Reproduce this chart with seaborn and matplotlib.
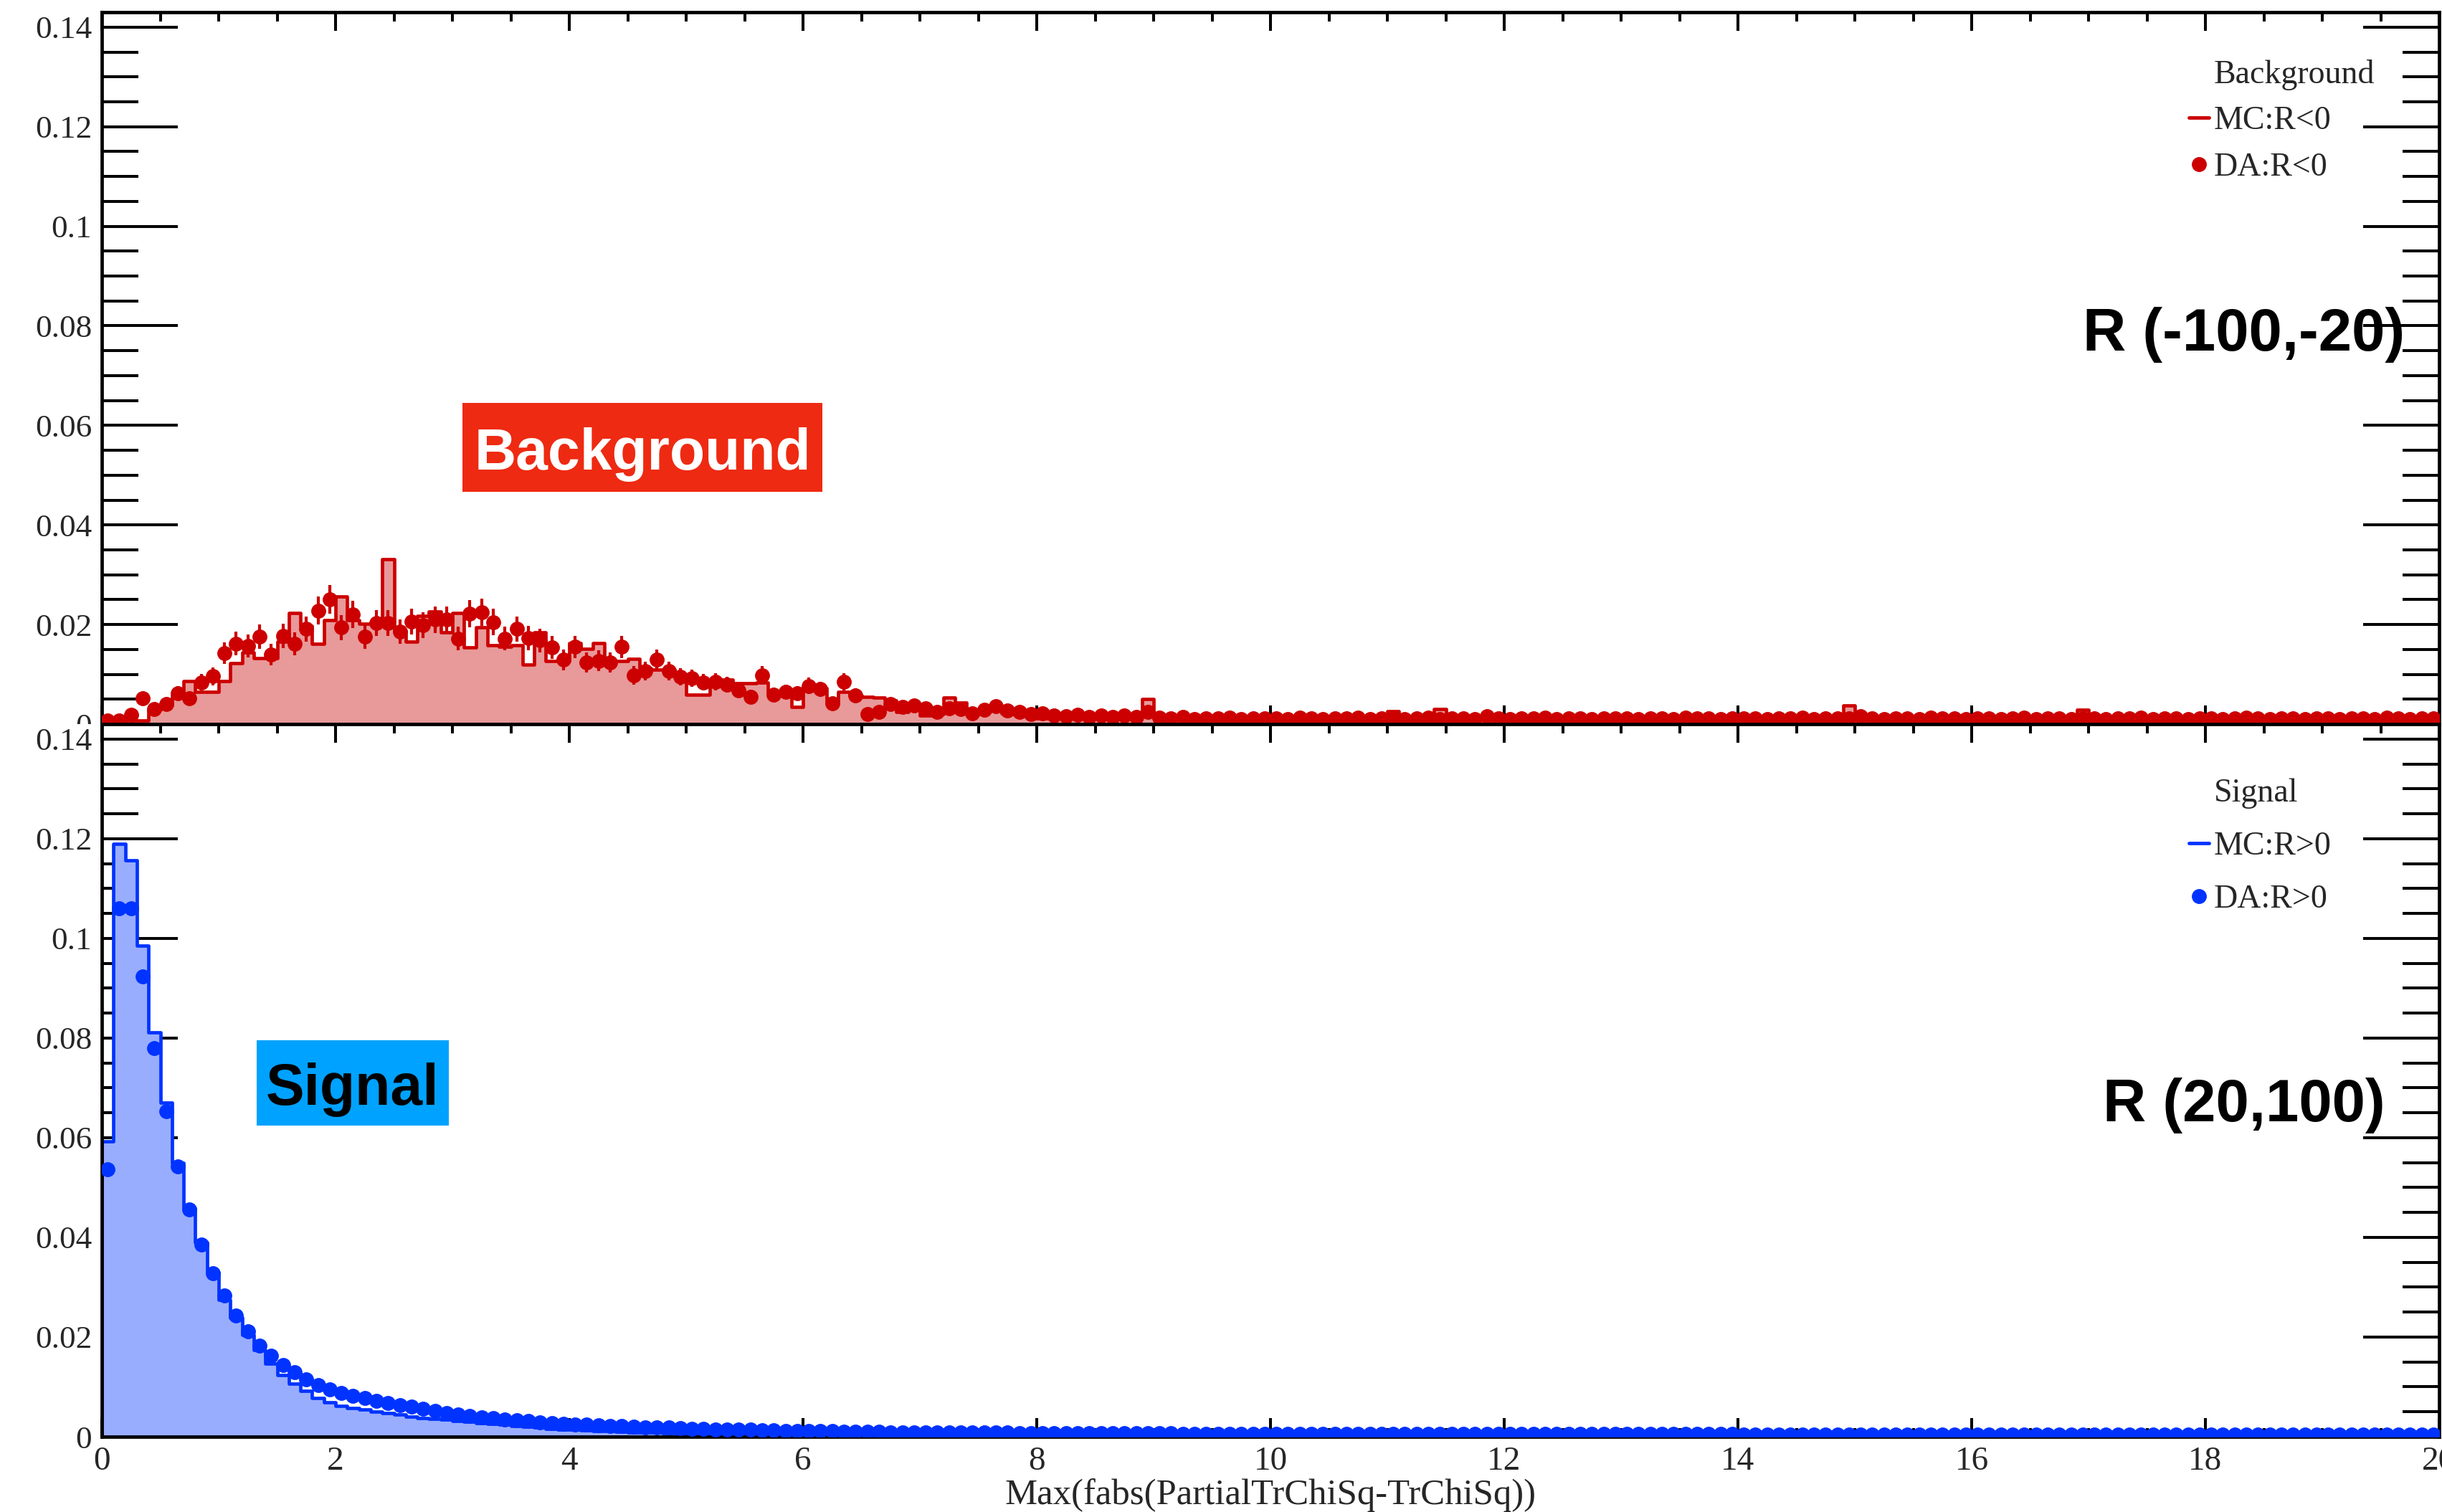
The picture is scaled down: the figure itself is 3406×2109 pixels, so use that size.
import numpy as np
import pandas as pd
import matplotlib
matplotlib.use("Agg")
import matplotlib.pyplot as plt
import seaborn as sns
from matplotlib.lines import Line2D
from matplotlib.patches import Rectangle
from matplotlib.ticker import MultipleLocator, FuncFormatter

# ---------------- data (bin width 0.1, range 0..20) ----------------
x_min, x_max, n_bins = 0.0, 20.0, 200

bkg_mc = [
    0.0007, 0.0007, 0.0007, 0.0007, 0.0029, 0.0038, 0.0058, 0.0086, 0.0065, 0.0065,
    0.0086, 0.0122, 0.0144, 0.0132, 0.0132, 0.0166, 0.0223, 0.0197, 0.0161, 0.0209,
    0.0257, 0.0209, 0.0202, 0.0202, 0.0331, 0.0187, 0.0166, 0.0218, 0.0226, 0.0185,
    0.0223, 0.0154, 0.0194, 0.0158, 0.0156, 0.0158, 0.0120, 0.0185, 0.0127, 0.0127,
    0.0163, 0.0151, 0.0163, 0.0127, 0.0127, 0.0131, 0.0113, 0.0110, 0.0110, 0.0098,
    0.0059, 0.0059, 0.0086, 0.0090, 0.0082, 0.0082, 0.0083, 0.0062, 0.0062, 0.0034,
    0.0074, 0.0072, 0.0046, 0.0065, 0.0058, 0.0055, 0.0053, 0.0048, 0.0024, 0.0030,
    0.0017, 0.0020, 0.0053, 0.0043, 0.0020, 0.0025, 0.0030, 0.0022, 0.0020, 0.0018,
    0.0012, 0.0016, 0.0014, 0.0015, 0.0012, 0.0016, 0.0013, 0.0011, 0.0014, 0.0050,
    0.0012, 0.0010, 0.0013, 0.0009, 0.0011, 0.0008, 0.0012, 0.0010, 0.0007, 0.0011,
    0.0009, 0.0012, 0.0008, 0.0010, 0.0013, 0.0009, 0.0007, 0.0011, 0.0010, 0.0008,
    0.0026, 0.0010, 0.0012, 0.0009, 0.0030, 0.0011, 0.0008, 0.0010, 0.0012, 0.0009,
    0.0013, 0.0010, 0.0008, 0.0011, 0.0009, 0.0012, 0.0007, 0.0010, 0.0011, 0.0008,
    0.0010, 0.0012, 0.0009, 0.0007, 0.0011, 0.0010, 0.0008, 0.0012, 0.0009, 0.0010,
    0.0011, 0.0008, 0.0010, 0.0012, 0.0009, 0.0007, 0.0010, 0.0011, 0.0009, 0.0037,
    0.0010, 0.0008, 0.0012, 0.0009, 0.0011, 0.0010, 0.0007, 0.0012, 0.0010, 0.0008,
    0.0011, 0.0009, 0.0010, 0.0012, 0.0008, 0.0010, 0.0011, 0.0009, 0.0012, 0.0029,
    0.0009, 0.0011, 0.0008, 0.0010, 0.0012, 0.0009, 0.0007, 0.0011, 0.0010, 0.0009,
    0.0008, 0.0011, 0.0010, 0.0012, 0.0009, 0.0007, 0.0010, 0.0011, 0.0008, 0.0010,
    0.0009, 0.0012, 0.0010, 0.0008, 0.0011, 0.0009, 0.0010, 0.0007, 0.0011, 0.0010,
]

bkg_da = [
    0.0007, 0.0007, 0.0019, 0.0052, 0.0030, 0.0041, 0.0062, 0.0052, 0.0084, 0.0096,
    0.0143, 0.0162, 0.0157, 0.0176, 0.0139, 0.0177, 0.0161, 0.0191, 0.0228, 0.0250,
    0.0194, 0.0220, 0.0176, 0.0203, 0.0203, 0.0186, 0.0206, 0.0199, 0.0210, 0.0210,
    0.0172, 0.0222, 0.0224, 0.0205, 0.0172, 0.0191, 0.0173, 0.0168, 0.0154, 0.0129,
    0.0155, 0.0124, 0.0127, 0.0124, 0.0155, 0.0098, 0.0106, 0.0129, 0.0106, 0.0095,
    0.0092, 0.0084, 0.0085, 0.0079, 0.0068, 0.0055, 0.0098, 0.0059, 0.0065, 0.0062,
    0.0077, 0.0070, 0.0042, 0.0085, 0.0058, 0.0020, 0.0024, 0.0040, 0.0034, 0.0038,
    0.0032, 0.0024, 0.0032, 0.0030, 0.0021, 0.0029, 0.0036, 0.0028, 0.0025, 0.0020,
    0.0022, 0.0018, 0.0016, 0.0019, 0.0015, 0.0017, 0.0014, 0.0018, 0.0015, 0.0025,
    0.0013, 0.0011, 0.0014, 0.0010, 0.0012, 0.0011, 0.0013, 0.0010, 0.0012, 0.0011,
    0.0012, 0.0010, 0.0013, 0.0011, 0.0010, 0.0012, 0.0011, 0.0013, 0.0010, 0.0011,
    0.0012, 0.0010, 0.0011, 0.0013, 0.0010, 0.0012, 0.0011, 0.0010, 0.0016, 0.0011,
    0.0010, 0.0012, 0.0011, 0.0013, 0.0010, 0.0011, 0.0012, 0.0010, 0.0011, 0.0012,
    0.0011, 0.0010, 0.0012, 0.0011, 0.0010, 0.0013, 0.0011, 0.0012, 0.0010, 0.0011,
    0.0012, 0.0011, 0.0010, 0.0012, 0.0011, 0.0013, 0.0010, 0.0011, 0.0012, 0.0011,
    0.0016, 0.0011, 0.0010, 0.0012, 0.0011, 0.0010, 0.0013, 0.0011, 0.0012, 0.0010,
    0.0011, 0.0012, 0.0010, 0.0011, 0.0013, 0.0010, 0.0012, 0.0011, 0.0010, 0.0012,
    0.0011, 0.0010, 0.0012, 0.0011, 0.0013, 0.0010, 0.0011, 0.0012, 0.0010, 0.0011,
    0.0012, 0.0010, 0.0011, 0.0013, 0.0011, 0.0010, 0.0012, 0.0011, 0.0010, 0.0012,
    0.0011, 0.0010, 0.0012, 0.0011, 0.0010, 0.0013, 0.0011, 0.0010, 0.0012, 0.0011,
]

sig_mc = [
    0.0592, 0.1190, 0.1156, 0.0986, 0.0812, 0.0670, 0.0550, 0.0459, 0.0390, 0.0330,
    0.0275, 0.0239, 0.0204, 0.0174, 0.0147, 0.0124, 0.0106, 0.0092, 0.0078, 0.0069,
    0.0062, 0.0058, 0.0054, 0.0050, 0.0047, 0.0044, 0.0041, 0.0038, 0.0036, 0.0034,
    0.0032, 0.0030, 0.0028, 0.0026, 0.0024, 0.0022, 0.0020, 0.0018, 0.0016, 0.0015,
    0.0014, 0.0013, 0.0012, 0.0011, 0.0010, 0.0009, 0.0008, 0.0008, 0.0007, 0.0007,
    0.0006, 0.0006, 0.0006, 0.0005, 0.0005, 0.0005, 0.0004, 0.0004, 0.0004, 0.0004,
    0.0004, 0.0003, 0.0003, 0.0003, 0.0003, 0.0003, 0.0003, 0.0003, 0.0003, 0.0003,
    0.0003, 0.0003, 0.0003, 0.0003, 0.0003, 0.0002, 0.0002, 0.0002, 0.0002, 0.0002,
    0.0002, 0.0002, 0.0002, 0.0002, 0.0002, 0.0002, 0.0002, 0.0002, 0.0002, 0.0002,
    0.0002, 0.0002, 0.0002, 0.0002, 0.0002, 0.0002, 0.0002, 0.0002, 0.0002, 0.0002,
    0.0002, 0.0002, 0.0002, 0.0002, 0.0002, 0.0002, 0.0002, 0.0002, 0.0002, 0.0002,
    0.0001, 0.0001, 0.0001, 0.0001, 0.0001, 0.0001, 0.0001, 0.0001, 0.0001, 0.0001,
    0.0001, 0.0001, 0.0001, 0.0001, 0.0001, 0.0001, 0.0001, 0.0001, 0.0001, 0.0001,
    0.0001, 0.0001, 0.0001, 0.0001, 0.0001, 0.0001, 0.0001, 0.0001, 0.0001, 0.0001,
    0.0001, 0.0001, 0.0001, 0.0001, 0.0001, 0.0001, 0.0001, 0.0001, 0.0001, 0.0001,
    0.0001, 0.0001, 0.0001, 0.0001, 0.0001, 0.0001, 0.0001, 0.0001, 0.0001, 0.0001,
    0.0001, 0.0001, 0.0001, 0.0001, 0.0001, 0.0001, 0.0001, 0.0001, 0.0001, 0.0001,
    0.0001, 0.0001, 0.0001, 0.0001, 0.0001, 0.0001, 0.0001, 0.0001, 0.0001, 0.0001,
    0.0001, 0.0001, 0.0001, 0.0001, 0.0001, 0.0001, 0.0001, 0.0001, 0.0001, 0.0001,
    0.0001, 0.0001, 0.0001, 0.0001, 0.0001, 0.0001, 0.0001, 0.0001, 0.0001, 0.0001,
]

sig_da = [
    0.0537, 0.1060, 0.1060, 0.0924, 0.0780, 0.0653, 0.0543, 0.0456, 0.0385, 0.0328,
    0.0283, 0.0243, 0.0211, 0.0183, 0.0163, 0.0144, 0.0130, 0.0115, 0.0104, 0.0095,
    0.0088, 0.0082, 0.0077, 0.0072, 0.0068, 0.0064, 0.0060, 0.0056, 0.0052, 0.0048,
    0.0045, 0.0042, 0.0039, 0.0037, 0.0035, 0.0033, 0.0031, 0.0029, 0.0027, 0.0026,
    0.0025, 0.0024, 0.0023, 0.0022, 0.0021, 0.0020, 0.0019, 0.0018, 0.0018, 0.0017,
    0.0016, 0.0016, 0.0015, 0.0015, 0.0014, 0.0014, 0.0013, 0.0013, 0.0012, 0.0012,
    0.0011, 0.0011, 0.0011, 0.0010, 0.0010, 0.0010, 0.0010, 0.0009, 0.0009, 0.0009,
    0.0009, 0.0009, 0.0008, 0.0008, 0.0008, 0.0008, 0.0008, 0.0008, 0.0007, 0.0007,
    0.0007, 0.0007, 0.0007, 0.0007, 0.0007, 0.0007, 0.0007, 0.0007, 0.0007, 0.0007,
    0.0007, 0.0007, 0.0006, 0.0006, 0.0006, 0.0006, 0.0006, 0.0006, 0.0006, 0.0006,
    0.0006, 0.0006, 0.0006, 0.0006, 0.0006, 0.0006, 0.0006, 0.0006, 0.0006, 0.0006,
    0.0006, 0.0006, 0.0006, 0.0006, 0.0006, 0.0006, 0.0006, 0.0006, 0.0006, 0.0006,
    0.0006, 0.0006, 0.0006, 0.0006, 0.0006, 0.0006, 0.0006, 0.0006, 0.0006, 0.0006,
    0.0006, 0.0006, 0.0006, 0.0006, 0.0006, 0.0006, 0.0006, 0.0006, 0.0006, 0.0006,
    0.0005, 0.0005, 0.0005, 0.0005, 0.0005, 0.0005, 0.0005, 0.0005, 0.0005, 0.0005,
    0.0005, 0.0005, 0.0005, 0.0005, 0.0005, 0.0005, 0.0005, 0.0005, 0.0005, 0.0005,
    0.0005, 0.0005, 0.0005, 0.0005, 0.0005, 0.0005, 0.0005, 0.0005, 0.0005, 0.0005,
    0.0004, 0.0004, 0.0004, 0.0004, 0.0004, 0.0004, 0.0004, 0.0004, 0.0004, 0.0004,
    0.0004, 0.0004, 0.0004, 0.0004, 0.0004, 0.0004, 0.0004, 0.0004, 0.0004, 0.0004,
    0.0004, 0.0004, 0.0004, 0.0004, 0.0004, 0.0004, 0.0004, 0.0004, 0.0004, 0.0004,
]

x_title = "Max(fabs(PartialTrChiSq-TrChiSq))"
bkg_labels = ["Background", "MC:R<0", "DA:R<0"]
sig_labels = ["Signal", "MC:R>0", "DA:R>0"]

assert len(bkg_mc) == len(bkg_da) == len(sig_mc) == len(sig_da) == n_bins

edges = np.linspace(x_min, x_max, n_bins + 1)
centers = 0.5 * (edges[:-1] + edges[1:])
bkg_da_arr = np.array(bkg_da)
bkg_err = 0.0183 * np.sqrt(bkg_da_arr)   # Poisson-like stat. errors

# ---------------- style ----------------
RED_LINE = "#CC0000"
RED_FILL = "#E89999"
BLUE_LINE = "#0033FF"
BLUE_FILL = "#99ADFF"
BOX_RED = "#EE2A12"
BOX_CYAN = "#00A2FF"
SANS = ["Liberation Sans", "DejaVu Sans"]

sns.set_style("ticks")
plt.rcParams["font.family"] = ["Liberation Serif", "DejaVu Serif"]
plt.rcParams["axes.linewidth"] = 3.4

fig = plt.figure(figsize=(34.06, 21.09), dpi=100)
fig.patch.set_facecolor("white")
W_PX, H_PX = 3406, 2109
left_px, right_px = 142, 3402
top_top, top_bot = 17, 1010
bot_top, bot_bot = 1010, 2004
L = left_px / W_PX
W = (right_px - left_px) / W_PX
ax_top = fig.add_axes([L, 1 - top_bot / H_PX, W, (top_bot - top_top) / H_PX])
ax_bot = fig.add_axes([L, 1 - bot_bot / H_PX, W, (bot_bot - bot_top) / H_PX])
ax_top.set_zorder(1)
ax_bot.set_zorder(2)

# white mask: clips the upper pad's "0" label at the pad boundary (as in ROOT)
fig.add_artist(Rectangle((0, 0), L * 0.97, 1 - top_bot / H_PX,
                         transform=fig.transFigure, fc="white", ec="none",
                         zorder=1.5))

df_bkg = pd.DataFrame({"x": centers, "mc": bkg_mc, "da": bkg_da})
df_sig = pd.DataFrame({"x": centers, "mc": sig_mc, "da": sig_da})

sns.histplot(data=df_bkg, x="x", weights="mc", bins=n_bins, binrange=(x_min, x_max),
             element="step", fill=True, facecolor=RED_FILL, edgecolor=RED_LINE,
             linewidth=3.4, ax=ax_top, zorder=2)
ax_top.errorbar(centers, bkg_da_arr, yerr=bkg_err, fmt="o", ms=14,
                color=RED_LINE, ecolor=RED_LINE, elinewidth=3.0, capsize=0,
                zorder=3)

sns.histplot(data=df_sig, x="x", weights="mc", bins=n_bins, binrange=(x_min, x_max),
             element="step", fill=True, facecolor=BLUE_FILL, edgecolor=BLUE_LINE,
             linewidth=3.4, ax=ax_bot, zorder=2)
ax_bot.plot(centers, sig_da, "o", ms=14, color=BLUE_LINE, zorder=3)

fmt = FuncFormatter(lambda v, p: ("%g" % round(v, 4)))
for ax in (ax_top, ax_bot):
    ax.set_xlim(x_min, x_max)
    ax.set_ylim(0, 0.143)
    ax.set_xlabel("")
    ax.set_ylabel("")
    ax.xaxis.set_major_locator(MultipleLocator(2))
    ax.xaxis.set_minor_locator(MultipleLocator(0.5))
    ax.yaxis.set_major_locator(MultipleLocator(0.02))
    ax.yaxis.set_minor_locator(MultipleLocator(0.005))
    ax.yaxis.set_major_formatter(fmt)
    ax.xaxis.set_major_formatter(fmt)
    ax.tick_params(which="both", direction="in", top=True, right=True,
                   width=2.9, color="black")
    ax.tick_params(axis="y", which="major", length=76, labelsize=32.5, pad=10)
    ax.tick_params(axis="y", which="minor", length=37)
    ax.tick_params(axis="x", which="major", length=19, labelsize=34, pad=10)
    ax.tick_params(axis="x", which="minor", length=9)
    for s in ax.spines.values():
        s.set_linewidth(3.4)
        s.set_color("black")
    ax.set_facecolor("white")

ax_top.tick_params(axis="x", labelbottom=False)
ax_bot.set_xlabel(x_title, fontsize=36.5, labelpad=1)

# legends
h_bkg = [Line2D([], [], linestyle="none"),
         Line2D([], [], color=RED_LINE, lw=3.5),
         Line2D([], [], marker="o", ls="none", color=RED_LINE, ms=14)]
ax_top.legend(h_bkg, bkg_labels, loc="upper left",
              bbox_to_anchor=(0.893, 0.934), frameon=False, fontsize=33,
              handlelength=0.6, handletextpad=0.15, labelspacing=0.49,
              borderpad=0, borderaxespad=0)
h_sig = [Line2D([], [], linestyle="none"),
         Line2D([], [], color=BLUE_LINE, lw=3.5),
         Line2D([], [], marker="o", ls="none", color=BLUE_LINE, ms=14)]
ax_bot.legend(h_sig, sig_labels, loc="upper left",
              bbox_to_anchor=(0.893, 0.924), frameon=False, fontsize=33,
              handlelength=0.6, handletextpad=0.15, labelspacing=0.69,
              borderpad=0, borderaxespad=0)

# big annotations (boxes in data coordinates of each pad)
ax_top.add_patch(Rectangle((3.086, 0.0466), 6.166 - 3.086, 0.0645 - 0.0466,
                           fc=BOX_RED, ec="none", zorder=4))
ax_top.text(4.626, 0.0542, "Background", ha="center", va="center", fontsize=58,
            fontweight="bold", color="white", family=SANS, zorder=5)
ax_bot.add_patch(Rectangle((1.325, 0.0624), 2.969 - 1.325, 0.0796 - 0.0624,
                           fc=BOX_CYAN, ec="none", zorder=4))
ax_bot.text(2.147, 0.0696, "Signal", ha="center", va="center", fontsize=58,
            fontweight="bold", color="black", family=SANS, zorder=5)
ax_top.text(18.33, 0.0782, "R (-100,-20)", ha="center", va="center", fontsize=60,
            fontweight="bold", color="black", family=SANS, zorder=5, clip_on=False)
ax_bot.text(18.33, 0.0664, "R (20,100)", ha="center", va="center", fontsize=60,
            fontweight="bold", color="black", family=SANS, zorder=5, clip_on=False)

fig.savefig("out.png", dpi=100, facecolor="white")
